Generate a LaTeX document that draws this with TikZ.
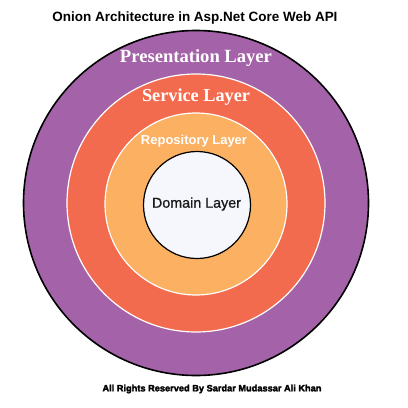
\documentclass[tikz,border=0pt]{standalone}
\usepackage{fontspec}
\setmainfont{Liberation Sans}
\newfontfamily\serifx{Liberation Serif}
\newfontface\heavyfont[FakeBold=2.5]{Liberation Sans Bold}
\newfontface\mediumfont[FakeBold=0.8]{Liberation Sans}
\usepackage{graphicx}
\definecolor{purplelayer}{HTML}{A462A8}
\definecolor{servicelayer}{HTML}{F26B4F}
\definecolor{repolayer}{HTML}{FBB062}
\definecolor{domainlayer}{HTML}{F6F7FC}
\begin{document}
\begin{tikzpicture}[x=1pt,y=-1pt,
  ring/.style={circle,inner sep=0pt,minimum size=#1},
  lbl/.style={inner sep=0pt,anchor=center}]
\useasboundingbox (0,0) rectangle (408,408);
\fill[white] (0,0) rectangle (408,408);
\node[ring=345pt,fill=purplelayer,draw=black,line width=1.6pt] (pres) at (196,203) {};
\node[ring=258pt,fill=servicelayer,draw=white,line width=1.2pt] (serv) at (196,203) {};
\node[ring=182pt,fill=repolayer,draw=white,line width=1.2pt] (repo) at (196,204) {};
\node[ring=107pt,fill=domainlayer,draw=black,line width=1.2pt] (dom) at (197,205) {};
\node[lbl] (title) at (195,18) {\resizebox{285pt}{!}{\bfseries Onion Architecture in Asp.Net Core Web API}};
\node[lbl,text=white] (presl) at (196,58) {\resizebox{152pt}{!}{\serifx\bfseries Presentation Layer}};
\node[lbl,text=white] (servl) at (196,97) {\resizebox{108pt}{!}{\serifx\bfseries Service Layer}};
\node[lbl,text=white] (repol) at (194,141) {\resizebox{106pt}{!}{\bfseries Repository Layer}};
\node[lbl,text=black!90] (doml) at (196.5,204) {\resizebox{89pt}{!}{\mediumfont Domain Layer}};
\node[lbl] (foot) at (212,389) {\resizebox{219pt}{!}{\heavyfont All Rights Reserved By Sardar Mudassar Ali Khan}};
\end{tikzpicture}
\end{document}
